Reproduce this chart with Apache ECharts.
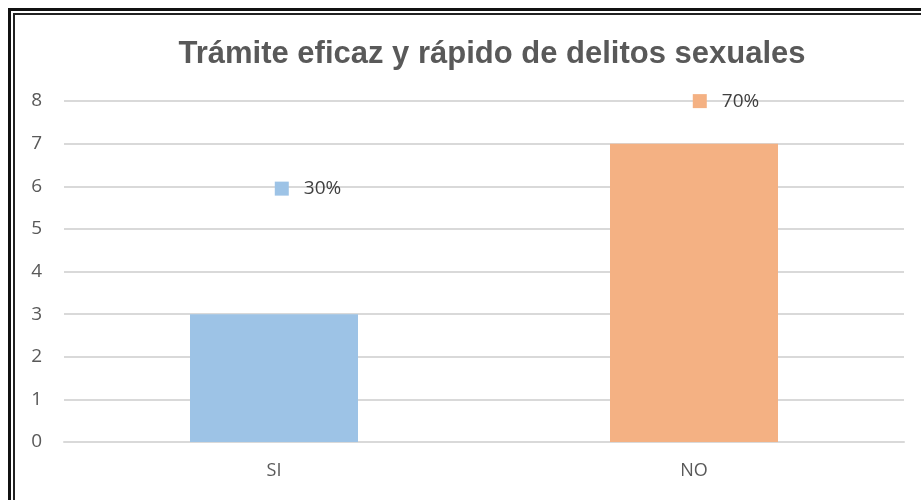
<!DOCTYPE html>
<html>
<head>
<meta charset="utf-8">
<script src="https://cdn.jsdelivr.net/npm/echarts@6/dist/echarts.min.js"></script>
<style>
  html, body { margin: 0; padding: 0; background: #fff; }
  #chart { width: 921px; height: 500px; }
</style>
</head>
<body>
<div id="chart"></div>
<script>
const categories = ['SI', 'NO']
const counts = [3, 7]
const percents = ['30%', '70%']
const colors = ['#9dc3e6', '#f4b183']
const yTicks = [0, 1, 2, 3, 4, 5, 6, 7, 8]

// label offsets (the original data labels were dragged by hand)
const labelOffsets = [[34, -111], [32, -28]]

const chart = echarts.init(document.getElementById('chart'))

chart.setOption({
  animation: false,
  title: {
    text: 'Trámite eficaz y rápido de delitos sexuales',
    left: 487,
    textAlign: 'center',
    top: 34,
    textStyle: {
      fontFamily: 'Liberation Sans, Arial, sans-serif',
      fontSize: 31,
      fontWeight: 'bold',
      color: '#595959'
    }
  },
  graphic: [
    {
      type: 'rect',
      shape: { x: 9.5, y: 9.5, width: 1000, height: 600 },
      style: { fill: 'none', stroke: '#111', lineWidth: 3 }
    },
    {
      type: 'rect',
      shape: { x: 14, y: 14, width: 1000, height: 600 },
      style: { fill: 'none', stroke: '#222', lineWidth: 2 }
    }
  ],
  grid: { left: 64, right: 17, top: 101, bottom: 58 },
  xAxis: {
    type: 'category',
    data: categories,
    axisLine: { show: true, lineStyle: { color: '#d9d9d9', width: 2 } },
    axisTick: { show: false },
    axisLabel: {
      margin: 20,
      fontFamily: 'Open Sans, Liberation Sans, sans-serif',
      fontSize: 18,
      color: '#595959'
    }
  },
  yAxis: {
    type: 'value',
    min: yTicks[0],
    max: yTicks[yTicks.length - 1],
    interval: 1,
    axisLine: { show: false },
    axisTick: { show: false },
    splitLine: { lineStyle: { color: '#d9d9d9', width: 2 } },
    axisLabel: {
      margin: 22,
      fontFamily: 'Open Sans, Liberation Sans, sans-serif',
      fontSize: 19,
      color: '#595959'
    }
  },
  series: [
    {
      type: 'bar',
      barWidth: 168,
      data: counts.map((v, i) => ({
        value: v,
        itemStyle: { color: colors[i] },
        label: {
          show: true,
          position: 'top',
          offset: labelOffsets[i],
          formatter: '{sq|}{t|' + percents[i] + '}',
          rich: {
            sq: { width: 14, height: 14, backgroundColor: colors[i] },
            t: {
              padding: [0, 0, 0, 15],
              fontFamily: 'Open Sans, Liberation Sans, sans-serif',
              fontSize: 19,
              color: '#404040'
            }
          }
        }
      }))
    }
  ]
})
</script>
</body>
</html>
